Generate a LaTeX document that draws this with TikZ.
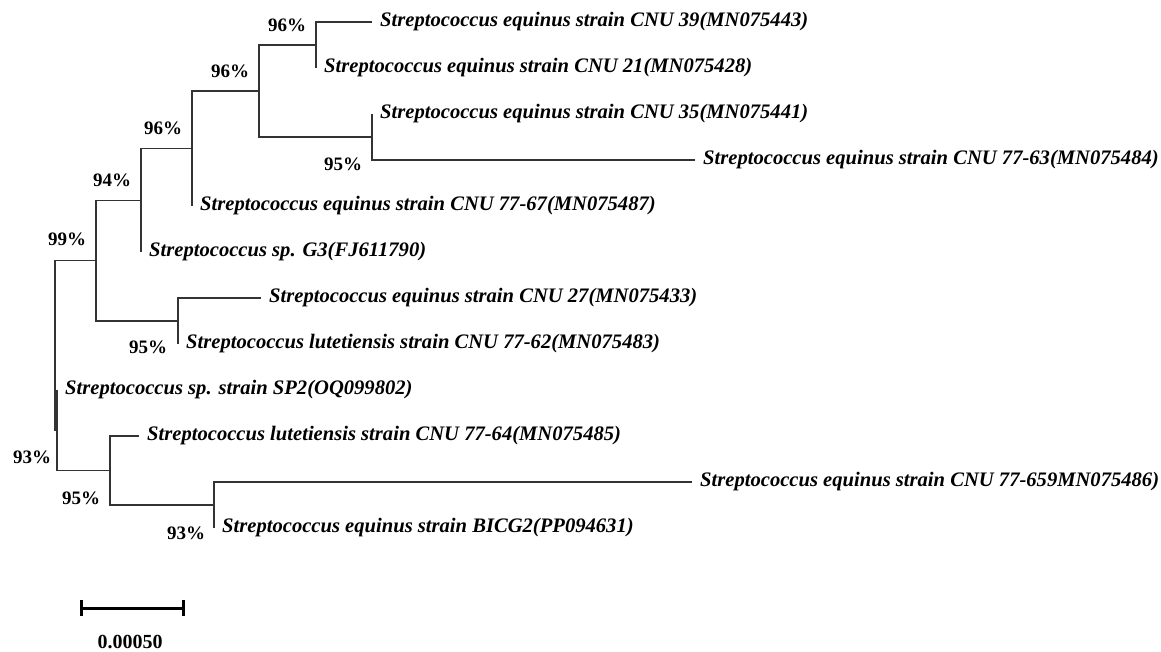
\documentclass[tikz,border=0pt]{standalone}
\usepackage{fontspec}
\setmainfont{Liberation Serif}
\usetikzlibrary{arrows.meta}

\tikzset{
  branch/.style={line width=1.2pt, draw=black!80},
  leaf/.style={anchor=west, inner xsep=8pt, inner ysep=0pt, font=\fontsize{20.6}{24}\selectfont\bfseries\itshape},
  boot/.style={inner sep=0pt, font=\fontsize{19}{22}\selectfont\bfseries},
}

\begin{document}
\begin{tikzpicture}[x=1pt, y=-1pt]
    \useasboundingbox (0,0) rectangle (1161,651);
    % inner nodes of the tree
    \coordinate (A) at (316,45);
    \coordinate (C) at (372,137);
    \coordinate (B) at (259,91);
    \coordinate (D) at (192,148.5);
    \coordinate (E) at (141,200.25);
    \coordinate (G) at (178,321);
    \coordinate (F) at (96,260.6);
    \coordinate (J) at (214,505);
    \coordinate (I) at (110,470.5);
    \coordinate (H) at (57,430.25);
    \coordinate (R) at (55,345.4);
    % leaves
    \node[leaf] (cnu39) at (372,22) {Streptococcus equinus strain CNU 39(MN075443)};
    \node[leaf] (cnu21) at (316,68) {Streptococcus equinus strain CNU 21(MN075428)};
    \node[leaf] (cnu35) at (372,114) {Streptococcus equinus strain CNU 35(MN075441)};
    \node[leaf] (cnu7763) at (695,160) {Streptococcus equinus strain CNU 77-63(MN075484)};
    \node[leaf] (cnu7767) at (192,206) {Streptococcus equinus strain CNU 77-67(MN075487)};
    \node[leaf] (g3) at (141,252) {Streptococcus sp. G3(FJ611790)};
    \node[leaf] (cnu27) at (261,298) {Streptococcus equinus strain CNU 27(MN075433)};
    \node[leaf] (cnu7762) at (178,344) {Streptococcus lutetiensis strain CNU 77-62(MN075483)};
    \node[leaf] (sp2) at (57,390) {Streptococcus sp. strain SP2(OQ099802)};
    \node[leaf] (cnu7764) at (139,436) {Streptococcus lutetiensis strain CNU 77-64(MN075485)};
    \node[leaf] (cnu77659) at (692,482) {Streptococcus equinus strain CNU 77-659MN075486)};
    \node[leaf] (bicg2) at (214,528) {Streptococcus equinus strain BICG2(PP094631)};
    % branches
    \draw[branch] (A) |- (cnu39.west) (A) |- (cnu21.west);
    \draw[branch] (C) |- (cnu35.west) (C) |- (cnu7763.west);
    \draw[branch] (B) |- (A) (B) |- (C);
    \draw[branch] (D) |- (B) (D) |- (cnu7767.west);
    \draw[branch] (E) |- (D) (E) |- (g3.west);
    \draw[branch] (G) |- (cnu27.west) (G) |- (cnu7762.west);
    \draw[branch] (F) |- (E) (F) |- (G);
    \draw[branch] (J) |- (cnu77659.west) (J) |- (bicg2.west);
    \draw[branch] (I) |- (cnu7764.west) (I) |- (J);
    \draw[branch] (H) |- (sp2.west) (H) |- (I);
    \draw[branch] (R) |- (F) (R) |- (H);
    % bootstrap values
    \node[boot] (bA) at (287,25) {96\%};
    \node[boot] (bB) at (230,71) {96\%};
    \node[boot] (bD) at (163,128) {96\%};
    \node[boot] (bE) at (112,180) {94\%};
    \node[boot] (bF) at (67,239) {99\%};
    \node[boot] (bC) at (343,164) {95\%};
    \node[boot] (bG) at (148,347) {95\%};
    \node[boot] (bH) at (32,457) {93\%};
    \node[boot] (bI) at (81,498) {95\%};
    \node[boot] (bJ) at (186,533) {93\%};
    % scale bar
    \coordinate (s1) at (80,608);
    \coordinate (s2) at (185,608);
    \draw[line width=3pt, {Bar[width=16pt]}-{Bar[width=16pt]}] (s1) -- (s2);
    \node[boot, font=\fontsize{20}{22}\selectfont\bfseries] (sbar) at (130,642) {0.00050};
\end{tikzpicture}
\end{document}
